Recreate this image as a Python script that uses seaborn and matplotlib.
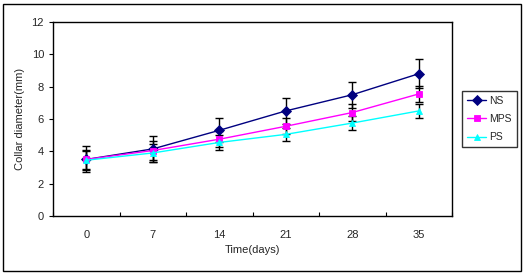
import numpy as np
import pandas as pd
import matplotlib
matplotlib.use('Agg')
import matplotlib.pyplot as plt
import seaborn as sns
from matplotlib.patches import Rectangle
from matplotlib.ticker import FixedLocator, NullFormatter, FixedFormatter

days = ['0', '7', '14', '21', '28', '35']
ns = [3.5, 4.15, 5.3, 6.5, 7.5, 8.8]
mps = [3.5, 4.05, 4.75, 5.55, 6.4, 7.55]
ps = [3.45, 3.9, 4.55, 5.05, 5.75, 6.5]
ns_err = [0.8, 0.8, 0.75, 0.8, 0.8, 0.9]
mps_err = [0.6, 0.6, 0.5, 0.5, 0.5, 0.5]
ps_err = [0.6, 0.55, 0.45, 0.4, 0.45, 0.45]

series = ['NS', 'MPS', 'PS']
colors = {'NS': '#000080', 'MPS': '#FF00FF', 'PS': '#00FFFF'}
markers = {'NS': 'D', 'MPS': 's', 'PS': '^'}

pos = np.arange(len(days))
df = pd.DataFrame({
    'pos': np.tile(pos, 3),
    'value': ns + mps + ps,
    'err': ns_err + mps_err + ps_err,
    'group': np.repeat(series, len(days)),
})

sns.set_style('white')
plt.rcParams['font.family'] = ['Liberation Sans', 'DejaVu Sans']

fig = plt.figure(figsize=(5.25, 2.75), dpi=100)
ax = fig.add_axes([0.101, 0.2145, 0.76, 0.7055])

sns.lineplot(data=df, x='pos', y='value', hue='group', style='group',
             palette=colors, markers=markers, dashes=False,
             markersize=5, linewidth=1, markeredgewidth=0.6, ax=ax, zorder=3)
for line in ax.lines:
    line.set_markeredgecolor(line.get_color())
handles, labels = ax.get_legend_handles_labels()

# black error bars drawn under the lines
for g in series:
    d = df[df['group'] == g]
    ax.errorbar(d['pos'], d['value'], yerr=d['err'], fmt='none',
                ecolor='black', elinewidth=1, capsize=3, capthick=1, zorder=1)

ax.set_xlim(-0.5, len(days) - 0.5)
ax.set_ylim(0, 12)
ax.set_yticks(np.arange(0, 13, 2))
ax.xaxis.set_major_locator(FixedLocator(np.arange(-0.5, len(days), 1)))
ax.xaxis.set_major_formatter(NullFormatter())
ax.xaxis.set_minor_locator(FixedLocator(pos))
ax.xaxis.set_minor_formatter(FixedFormatter(days))
ax.tick_params(axis='x', which='major', direction='in', length=3, color='black')
ax.tick_params(axis='x', which='minor', length=0, pad=10, labelsize=8)
ax.tick_params(axis='y', direction='out', length=3, color='black', labelsize=8)
ax.tick_params(axis='both', which='both', bottom=True, left=True)

for s in ax.spines.values():
    s.set_color('black')
    s.set_linewidth(1)

ax.set_xlabel('Time(days)', fontsize=8, labelpad=4)
ax.set_ylabel('Collar diameter(mm)', fontsize=8, labelpad=5)

leg = ax.legend(handles, labels, loc='upper left', bbox_to_anchor=(1.025, 0.645),
                frameon=True, fancybox=False, fontsize=7.5, handlelength=1.9,
                borderpad=0.45, labelspacing=0.8, handletextpad=0.3,
                borderaxespad=0, handleheight=0.7)
leg.get_frame().set_edgecolor('black')
leg.get_frame().set_linewidth(1)

fig.patches.append(Rectangle((0.005, 0.015), 0.987, 0.972, transform=fig.transFigure,
                             fill=False, edgecolor='black', linewidth=1))

fig.savefig('out.png', dpi=100)
